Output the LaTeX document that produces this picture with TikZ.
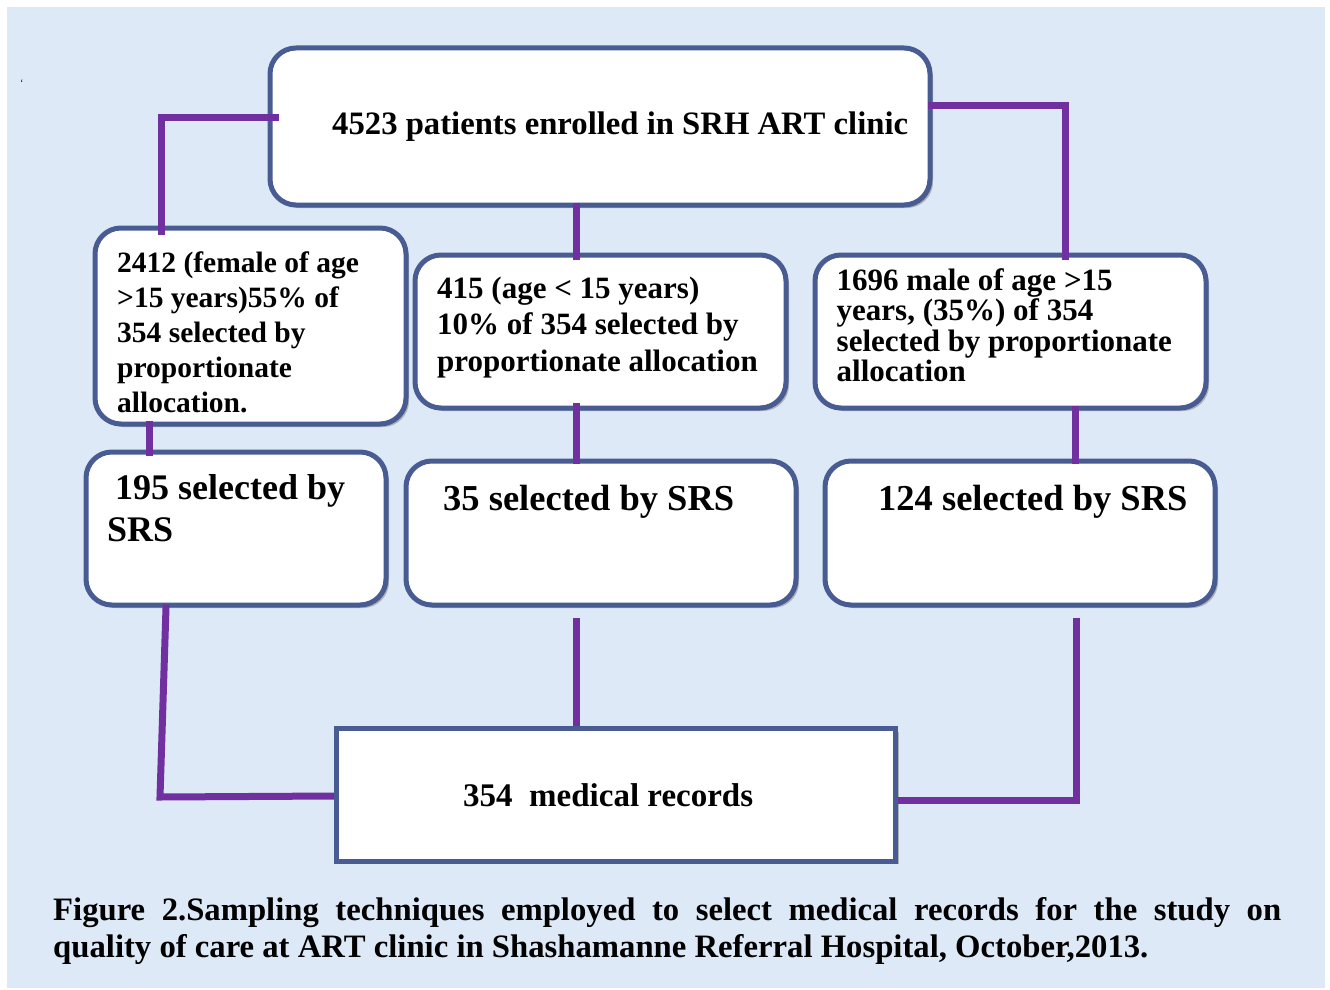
\documentclass[tikz,border=0pt]{standalone}
\usepackage{fontspec}
\setmainfont{Liberation Serif}
\usetikzlibrary{shadows}
\definecolor{bgblue}{RGB}{221,233,246}
\definecolor{boxblue}{RGB}{72,92,147}
\definecolor{connpurple}{RGB}{112,48,160}
\newcommand{\myfs}[2]{\fontsize{#1}{#2}\selectfont\bfseries}
\begin{document}
\begin{tikzpicture}[x=1pt,y=-1pt,
  box/.style={draw=boxblue, line width=5pt, fill=white, rounded corners=26pt,
    drop shadow={shadow xshift=3pt,shadow yshift=-3pt,fill=black!45,opacity=.6},
    inner sep=0pt},
  sqbox/.style={box, rounded corners=0pt},
  conn/.style={draw=connpurple, line width=7pt},
  txt/.style={anchor=base west, inner sep=0pt, align=left}]
\useasboundingbox (0,0) rectangle (1330,990);
\fill[white] (0,0) rectangle (1330,990);
\fill[bgblue] (7,7) rectangle (1325,988);

% boxes
\node[box, minimum width=660pt, minimum height=157pt] (top) at (600,126.5) {};
\node[box, minimum width=311pt, minimum height=196pt] (left1) at (250.5,326) {};
\node[box, minimum width=371pt, minimum height=153pt] (mid1) at (600.5,331.5) {};
\node[box, minimum width=391pt, minimum height=153pt] (right1) at (1010.5,331.5) {};
\node[box, minimum width=300pt, minimum height=153pt] (left2) at (236,528.5) {};
\node[box, minimum width=390pt, minimum height=144pt] (mid2) at (601,533) {};
\node[box, minimum width=390pt, minimum height=144pt] (right2) at (1020,533) {};
\node[sqbox, minimum width=559pt, minimum height=132.5pt] (bottom) at (616,794.75) {};

% connectors
\draw[conn, shorten <=-11pt, shorten >=-9pt] (top.west |- 0,117) -| (161,0 |- left1.north);
\draw[conn, shorten <=-5pt, shorten >=-7pt] (top.south -| 576,0) -- (mid1.north -| 576,0);
\draw[conn, shorten <=-5pt, shorten >=-7pt] (top.east |- 0,105) -| (1065,0 |- right1.north);
\draw[conn, shorten <=-6pt, shorten >=-6pt] (left1.south -| 149,0) -- (left2.north -| 149,0);
\draw[conn, shorten <=-8pt, shorten >=-5pt] (mid1.south -| 576,0) -- (mid2.north -| 576,0);
\draw[conn, shorten <=-5pt, shorten >=-5pt] (right1.south -| 1075,0) -- (right2.north -| 1075,0);
\coordinate (lc) at (160,797);
\draw[conn, shorten <=-3pt] (left2.south -| 166,0) -- (lc) -- (bottom.west |- 0,796);
\draw[conn, shorten <=10pt] (mid2.south -| 576,0) -- (bottom.north -| 576,0);
\draw[conn, shorten <=10pt] (right2.south -| 1076,0) |- (bottom.east |- 0,800);

% texts
\node[txt] (t0) at (332,134.5) {\myfs{32.7}{39}4523 patients enrolled in SRH ART clinic};
\node[txt] (t1) at (117,272) {\myfs{29.5}{35}\begin{tabular}[t]{@{}l@{}}2412 (female of age\\ >15 years)55\% of\\ 354 selected by\\ proportionate\\ allocation.\end{tabular}};
\node[txt] (t2) at (437,298) {\myfs{31}{36.7}\begin{tabular}[t]{@{}l@{}}415 (age < 15 years)\\ 10\% of 354 selected by\\ proportionate allocation\end{tabular}};
\node[txt] (t3) at (836.5,290) {\myfs{31}{29.5}\begin{tabular}[t]{@{}l@{}}1696 male of age >15\\ years, (35\%) of 354\\ selected by proportionate\\ allocation\end{tabular}};
\node[txt] (t4) at (107,499.5) {\myfs{36}{42}\begin{tabular}[t]{@{}l@{}}\hspace*{8pt}195 selected by\\ SRS\end{tabular}};
\node[txt] (t5) at (443,510) {\myfs{36.5}{42}35 selected by SRS};
\node[txt] (t6) at (878,510) {\myfs{36.5}{42}124 selected by SRS};
\node[txt] (t7) at (463,806) {\myfs{33}{40}354\ \ medical records};
\node[txt] (cap) at (53,920) {\parbox[t]{1228pt}{\myfs{32.7}{37}Figure 2.Sampling techniques employed to select medical records for the study on\linebreak quality of care at ART clinic in Shashamanne Referral Hospital, October,2013.}};
\node[txt] (tick) at (20,86) {\fontsize{10}{10}\selectfont `};
\end{tikzpicture}
\end{document}
